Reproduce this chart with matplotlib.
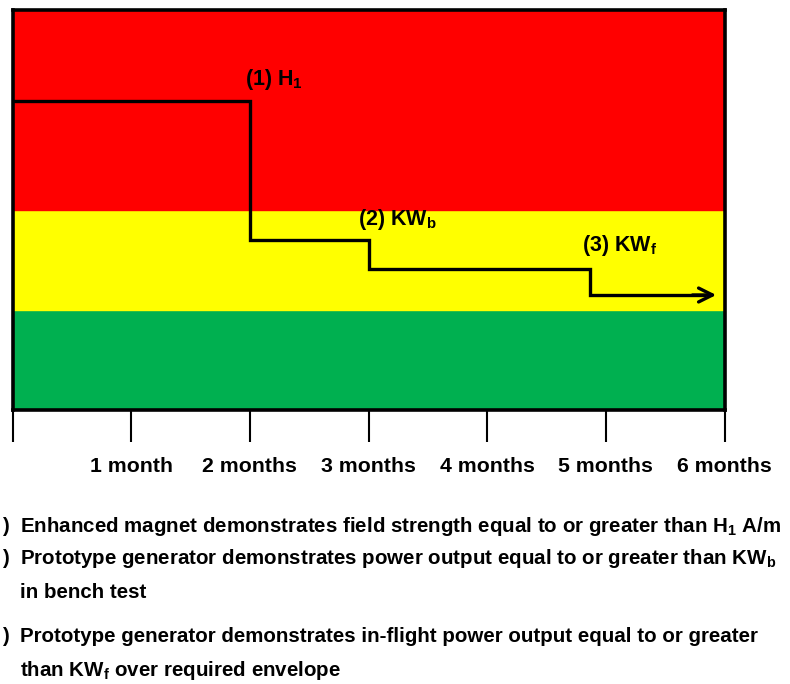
import matplotlib
matplotlib.use("Agg")
import matplotlib.pyplot as plt

plt.rcParams['font.family'] = ['Liberation Sans', 'DejaVu Sans']
plt.rcParams['font.weight'] = 'bold'
plt.rcParams['mathtext.fontset'] = 'custom'
plt.rcParams['mathtext.rm'] = 'Liberation Sans:bold'
plt.rcParams['mathtext.it'] = 'Liberation Sans:bold'
plt.rcParams['mathtext.bf'] = 'Liberation Sans:bold'

# ---- data ----
tick_months = [0, 1, 2, 3, 4, 5, 6]
tick_labels = ['', '1 month', '2 months', '3 months', '4 months', '5 months', '6 months']
zone_bounds = [0, 1, 2, 4]            # green, yellow, red
zone_colors = ['#00B050', '#FFFF00', '#FF0000']
step_x = [0, 2, 3, 4.87]
step_y = [3.09, 1.70, 1.41, 1.15]
arrow_end_x = 5.93
milestone_labels = ['(1) H$_1$', '(2) KW$_b$', '(3) KW$_f$']
milestone_x = [1.96, 2.91, 4.80]
milestone_y = [3.30, 1.90, 1.65]
notes_num = [')', ')', '', ')', '']
notes_text = ['Enhanced magnet demonstrates field strength equal to or greater than H$_1$ A/m',
              'Prototype generator demonstrates power output equal to or greater than KW$_b$',
              'in bench test',
              'Prototype generator demonstrates in-flight power output equal to or greater',
              'than KW$_f$ over required envelope']
notes_ypix = [526, 559, 592, 637, 671]

W, H = 790, 684
fig = plt.figure(figsize=(W / 100, H / 100), dpi=100)
ax = fig.add_axes([12.5 / W, 1 - 410 / H, (724.5 - 12.5) / W, 400 / H])

for i, c in enumerate(zone_colors):
    ax.axhspan(zone_bounds[i], zone_bounds[i + 1], color=c, zorder=0)

ax.set_xlim(0, 6)
ax.set_ylim(zone_bounds[0], zone_bounds[-1])

# step line
xs, ys = [], []
for i in range(len(step_x)):
    x_next = step_x[i + 1] if i + 1 < len(step_x) else arrow_end_x - 0.1
    xs += [step_x[i], x_next]
    ys += [step_y[i], step_y[i]]
ax.plot(xs, ys, color='black', lw=2.4, solid_joinstyle='miter', zorder=3)
ax.annotate('', xy=(arrow_end_x, step_y[-1]), xytext=(arrow_end_x - 0.2, step_y[-1]),
            arrowprops=dict(arrowstyle='->,head_length=1.0,head_width=0.5', lw=2.4, color='black',
                            shrinkA=0, shrinkB=0),
            zorder=4)

for lbl, x, y in zip(milestone_labels, milestone_x, milestone_y):
    ax.text(x, y, lbl, fontsize=15.5, fontweight='bold', ha='left', va='center', zorder=5)

for s in ax.spines.values():
    s.set_linewidth(2.6)
    s.set_color('black')

ax.set_yticks([])
ax.set_xticks(tick_months)
ax.set_xticklabels(tick_labels, fontsize=15.3, fontweight='bold')
ax.tick_params(axis='x', direction='out', length=23, width=1.5, pad=11, color='black')

for num, txt, yp in zip(notes_num, notes_text, notes_ypix):
    if num:
        fig.text(2 / W, 1 - yp / H, num, fontsize=14.8, fontweight='bold', ha='left', va='center')
    fig.text(20 / W, 1 - yp / H, txt, fontsize=14.8, fontweight='bold', ha='left', va='center')

fig.savefig('out.png', dpi=100)
